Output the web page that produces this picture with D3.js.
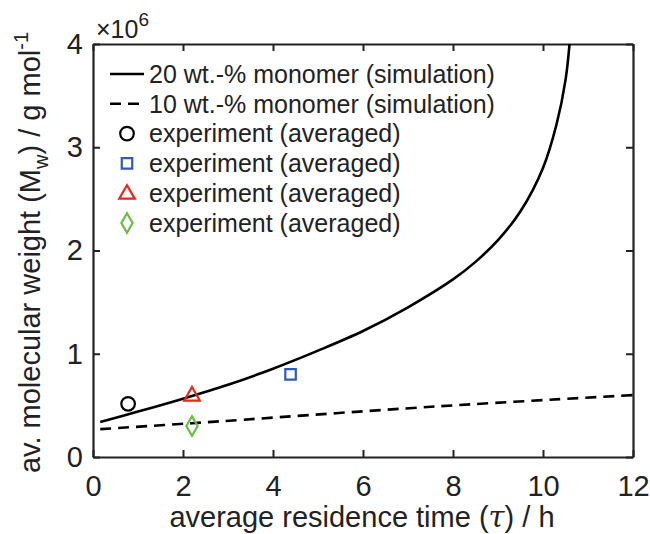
<!DOCTYPE html>
<html>
<head>
<meta charset="utf-8">
<script src="https://cdn.jsdelivr.net/npm/d3@7"></script>
<style>
  html, body { margin: 0; padding: 0; background: #fff; }
  svg { display: block; font-family: "Liberation Sans", Arial, Helvetica, sans-serif; }
</style>
</head>
<body>
<svg id="chart" width="650" height="534"></svg>
<script>
// Simulated molecular weight (in units of 1e6 g/mol) vs residence time (h)
const sim20Time = [0.16, 1.0, 2.0, 3.0, 4.0, 5.0, 6.0, 7.0, 8.0, 8.5, 9.0, 9.5, 10.0, 10.3, 10.5, 10.6];
const sim20Mw   = [0.34, 0.44, 0.565, 0.70, 0.855, 1.03, 1.22, 1.45, 1.72, 1.89, 2.10, 2.38, 2.80, 3.22, 3.65, 4.05];
const sim10Time = [0.16, 2.2, 7.6, 12];
const sim10Mw   = [0.27, 0.327, 0.489, 0.60];

// Averaged experimental points
const expTime   = [0.78, 4.39, 2.2, 2.2];
const expMw     = [0.515, 0.80, 0.60, 0.30];
const expShape  = ["circle", "square", "triangle", "diamond"];
const expColor  = ["#000000", "#2f5bb7", "#e8261b", "#6cbd45"];

const xTicks = [0, 2, 4, 6, 8, 10, 12];
const yTicks = [0, 1, 2, 3, 4];

const legendLabels = [
  "20 wt.-% monomer (simulation)",
  "10 wt.-% monomer (simulation)",
  "experiment (averaged)",
  "experiment (averaged)",
  "experiment (averaged)",
  "experiment (averaged)"
];

const svg = d3.select("#chart");
const plotL = 93, plotR = 633, plotT = 44, plotB = 457;

const x = d3.scaleLinear().domain([0, 12]).range([plotL, plotR]);
const y = d3.scaleLinear().domain([0, 4]).range([plotB, plotT]);

// clip region for the plot
svg.append("defs").append("clipPath").attr("id", "plotclip")
  .append("rect").attr("x", plotL).attr("y", plotT)
  .attr("width", plotR - plotL).attr("height", plotB - plotT);

const tickLen = 7;
const fontTick = 29;

// axes (ticks inside, boxed frame)
const xAxisB = d3.axisBottom(x).tickValues(xTicks).tickFormat(d3.format("d"))
  .tickSizeInner(-tickLen).tickSizeOuter(0).tickPadding(18);
const xAxisT = d3.axisTop(x).tickValues(xTicks).tickSizeInner(-tickLen).tickSizeOuter(0).tickFormat("");
const yAxisL = d3.axisLeft(y).tickValues(yTicks).tickFormat(d3.format("d"))
  .tickSizeInner(-tickLen).tickSizeOuter(0).tickPadding(10);
const yAxisR = d3.axisRight(y).tickValues(yTicks).tickSizeInner(-tickLen).tickSizeOuter(0).tickFormat("");

function styleAxis(g) {
  g.select(".domain").attr("stroke", "#222").attr("stroke-width", 2.2);
  g.selectAll(".tick line").attr("stroke", "#222").attr("stroke-width", 2);
  g.selectAll(".tick text").attr("fill", "#222").attr("font-size", fontTick)
    .attr("font-family", "'Liberation Sans', Arial, sans-serif");
}

svg.append("g").attr("transform", `translate(0,${plotB})`).call(xAxisB).call(styleAxis);
svg.append("g").attr("transform", `translate(0,${plotT})`).call(xAxisT).call(styleAxis);
svg.append("g").attr("transform", `translate(${plotL},0)`).call(yAxisL).call(styleAxis);
svg.append("g").attr("transform", `translate(${plotR},0)`).call(yAxisR).call(styleAxis);

// exponent label
const expo = svg.append("text").attr("x", 96).attr("y", 38).attr("font-size", 25).attr("fill", "#222");
expo.append("tspan").text("\u00d710");
expo.append("tspan").attr("dy", -12).attr("font-size", 19).text("6");

// axis titles
svg.append("text")
  .attr("x", 362).attr("y", 527)
  .attr("text-anchor", "middle").attr("font-size", 29).attr("fill", "#222")
  .call(t => {
    t.append("tspan").text("average residence time (");
    t.append("tspan").attr("font-family", "'DejaVu Serif', serif").attr("font-style", "italic").text("\u03c4");
    t.append("tspan").text(") / h");
  });

svg.append("text")
  .attr("transform", `translate(40,${(plotT + plotB) / 2 + 2}) rotate(-90)`)
  .attr("text-anchor", "middle").attr("font-size", 29).attr("fill", "#222")
  .call(t => {
    t.append("tspan").text("av. molecular weight (M");
    t.append("tspan").attr("font-size", 20).attr("dy", 8).text("w");
    t.append("tspan").attr("dy", -8).text(") / g mol");
    t.append("tspan").attr("font-size", 20).attr("dy", -12).text("-1");
  });

// simulation curves
const line = d3.line().x(d => x(d[0])).y(d => y(d[1])).curve(d3.curveCatmullRom);
const plot = svg.append("g").attr("clip-path", "url(#plotclip)");

plot.append("path")
  .datum(sim20Time.map((t, i) => [t, sim20Mw[i]]))
  .attr("d", line).attr("fill", "none").attr("stroke", "#000").attr("stroke-width", 2.6);

plot.append("path")
  .datum(sim10Time.map((t, i) => [t, sim10Mw[i]]))
  .attr("d", line).attr("fill", "none").attr("stroke", "#000").attr("stroke-width", 2.6)
  .attr("stroke-dasharray", "11,7");

// marker shapes
const symbolFor = {
  circle:   d3.symbol().type(d3.symbolCircle).size(145),
  square:   d3.symbol().type(d3.symbolSquare).size(110),
  triangle: d3.symbol().type(d3.symbolTriangle).size(105),
  diamond:  d3.symbol().type(d3.symbolDiamond).size(110)
};

function drawMarker(g, shape, color, cx, cy) {
  const dy = shape === "triangle" ? 1 : 0;
  return g.append("path")
    .attr("d", symbolFor[shape]())
    .attr("fill", "none").attr("stroke", color).attr("stroke-width", 2.2)
    .attr("transform", `translate(${cx},${cy + dy})`);
}

expTime.forEach((t, i) => drawMarker(svg, expShape[i], expColor[i], x(t), y(expMw[i])));

// legend
const legX = 110, legTextX = 149, legY0 = 74, legDy = 29.8;
legendLabels.forEach((lab, i) => {
  const cy = legY0 + i * legDy;
  if (i === 0) {
    svg.append("line").attr("x1", legX).attr("x2", 144).attr("y1", cy).attr("y2", cy)
      .attr("stroke", "#000").attr("stroke-width", 2.6);
  } else if (i === 1) {
    svg.append("line").attr("x1", legX).attr("x2", 144).attr("y1", cy).attr("y2", cy)
      .attr("stroke", "#000").attr("stroke-width", 2.6).attr("stroke-dasharray", "11,7");
  } else {
    drawMarker(svg, expShape[i - 2], expColor[i - 2], 127, cy);
  }
  svg.append("text").attr("x", legTextX).attr("y", cy).attr("dy", "0.35em")
    .attr("font-size", 25).attr("fill", "#222").text(lab);
});
</script>
</body>
</html>
